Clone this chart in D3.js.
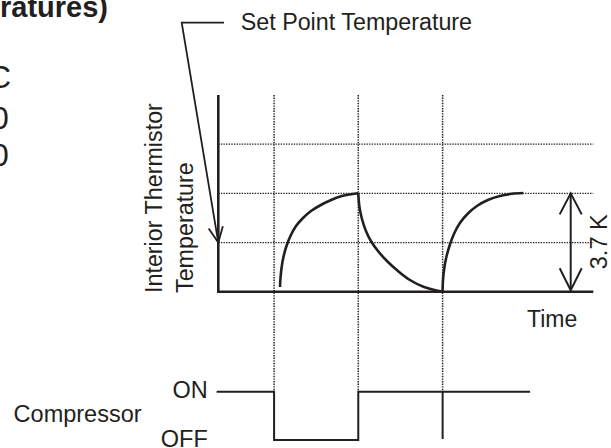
<!DOCTYPE html>
<html>
<head>
<meta charset="utf-8">
<script src="https://cdn.jsdelivr.net/npm/d3@7"></script>
<style>
  html, body { margin: 0; padding: 0; background: #fff; }
  svg { display: block; }
  text { font-family: "Liberation Sans", Arial, sans-serif; fill: #231f20; }
</style>
</head>
<body>
<svg id="chart" width="611" height="448"></svg>
<script>
// ---------------- data ----------------
const titleFragment = "ratures)";
const leftFragments = ["C", "0", "0"];
const setPointLabel = "Set Point Temperature";
const yAxisLabelLines = ["Interior Thermistor", "Temperature"];
const xAxisLabel = "Time";
const differentialLabel = "3.7 K";
const compressorLabel = "Compressor";
const stateLabels = ["ON", "OFF"];

// temperature relative to set point (K); time in arbitrary units
const tempDomain = [-1.85, 5.55];
const timeDomain = [0, 4.45];
const tempGrid = [0, 1.85, 3.7];
const timeGrid = [0.662, 1.661, 2.662];
const setPoint = 0;
const diffRange = [-1.85, 1.85];

// curve points [time, temp]
const rise1 = [[0.732,-1.673],[0.738,-1.335],[0.752,-0.921],[0.773,-0.545],[0.809,-0.131],[0.856,0.245],
  [0.922,0.622],[1.005,0.923],[1.100,1.186],[1.206,1.393],[1.325,1.581],[1.456,1.739],[1.661,1.852]];
const fall1 = [[1.661,1.852],[1.675,1.337],[1.705,0.885],[1.752,0.434],[1.811,0.057],[1.895,-0.319],
  [2.001,-0.695],[2.132,-1.071],[2.274,-1.41],[2.441,-1.673],[2.662,-1.85]];
const rise2 = [[2.662,-1.85],[2.665,-1.485],[2.677,-1.071],[2.701,-0.62],[2.743,-0.131],[2.796,0.321],
  [2.867,0.735],[2.962,1.092],[3.069,1.374],[3.199,1.6],[3.342,1.75],[3.485,1.833],[3.619,1.863]];

// compressor schedule [time, state] (1 = ON, 0 = OFF)
const compressor = [[-0.02,1],[0.662,0],[1.661,1],[3.70,1]];
const compressorTick = 2.662;

// ---------------- drawing ----------------
const svg = d3.select("#chart");
const ink = "#231f20";

const x = d3.scaleLinear().domain(timeDomain).range([218.3, 593.3]);
const y = d3.scaleLinear().domain(tempDomain).range([291.7, 95]);
const yc = d3.scaleLinear().domain([0, 1]).range([440, 391.7]);

// dotted horizontal grid
svg.append("g").selectAll("line").data(tempGrid).join("line")
  .attr("x1", x(timeDomain[0])).attr("x2", x(timeDomain[1]))
  .attr("y1", d => y(d)).attr("y2", d => y(d))
  .attr("stroke", ink).attr("stroke-width", 1.3).attr("stroke-dasharray", "1.4,1.2");

// dotted vertical grid down to compressor ON level
svg.append("g").selectAll("line").data(timeGrid).join("line")
  .attr("x1", d => x(d)).attr("x2", d => x(d))
  .attr("y1", y(tempDomain[1])).attr("y2", yc(1))
  .attr("stroke", ink).attr("stroke-width", 1.5).attr("stroke-dasharray", "1.4,1.2");

// axes
svg.append("line").attr("x1", x(0)).attr("x2", x(0))
  .attr("y1", y(tempDomain[1])).attr("y2", y(tempDomain[0]) + 1.3)
  .attr("stroke", ink).attr("stroke-width", 2.6);
svg.append("line").attr("x1", x(0) - 1.3).attr("x2", x(timeDomain[1]))
  .attr("y1", y(tempDomain[0])).attr("y2", y(tempDomain[0]))
  .attr("stroke", ink).attr("stroke-width", 2.6);

// temperature curves
const line = d3.line().x(d => x(d[0])).y(d => y(d[1])).curve(d3.curveCatmullRom.alpha(0.5));
[rise1, fall1, rise2].forEach(c => {
  svg.append("path").attr("d", line(c)).attr("fill", "none")
    .attr("stroke", ink).attr("stroke-width", 2.6).attr("stroke-linecap", "butt");
});

// differential double arrow
const ax = 570.7;
const aTop = y(diffRange[1]), aBot = y(diffRange[0]) - 1.5;
svg.append("line").attr("x1", ax).attr("x2", ax).attr("y1", aTop).attr("y2", aBot)
  .attr("stroke", ink).attr("stroke-width", 2);
svg.append("path").attr("d", `M${ax-11},${aTop+21}L${ax},${aTop}L${ax+11},${aTop+21}`)
  .attr("fill", "none").attr("stroke", ink).attr("stroke-width", 2);
svg.append("path").attr("d", `M${ax-11},${aBot-22}L${ax},${aBot}L${ax+11},${aBot-22}`)
  .attr("fill", "none").attr("stroke", ink).attr("stroke-width", 2);
svg.append("text").attr("transform", `translate(606.5,${(aTop + aBot) / 2}) rotate(-90)`)
  .attr("text-anchor", "middle").attr("font-size", 23.5).text(differentialLabel);

// set point leader
const tip = [x(0), y(setPoint)];
const knee = [181.7, 22.7];
svg.append("path").attr("d", `M224,${knee[1]}L${knee[0]},${knee[1]}L${tip[0]},${tip[1]}`)
  .attr("fill", "none").attr("stroke", ink).attr("stroke-width", 1.8);
{
  const dx = tip[0] - knee[0], dy = tip[1] - knee[1];
  const len = Math.hypot(dx, dy);
  const ux = -dx / len, uy = -dy / len, L = 17, a = 25 * Math.PI / 180;
  const p1 = [tip[0] + L * (ux * Math.cos(a) - uy * Math.sin(a)), tip[1] + L * (ux * Math.sin(a) + uy * Math.cos(a))];
  const p2 = [tip[0] + L * (ux * Math.cos(a) + uy * Math.sin(a)), tip[1] + L * (-ux * Math.sin(a) + uy * Math.cos(a))];
  svg.append("path").attr("d", `M${p1}L${tip}L${p2}`).attr("fill", "none")
    .attr("stroke", ink).attr("stroke-width", 1.8);
}
svg.append("text").attr("x", 240.7).attr("y", 29.5).attr("font-size", 23.3).text(setPointLabel);

// y label
yAxisLabelLines.forEach((t, i) => {
  svg.append("text").attr("transform", `translate(${i === 0 ? 161.5 : 193},293) rotate(-90)`)
    .attr("font-size", 23.3).text(t);
});

// x label
svg.append("text").attr("x", 527).attr("y", 326.5).attr("font-size", 23).text(xAxisLabel);

// compressor step line
const stepLine = d3.line().x(d => x(d[0])).y(d => yc(d[1])).curve(d3.curveStepAfter);
svg.append("path").attr("d", stepLine(compressor)).attr("fill", "none")
  .attr("stroke", ink).attr("stroke-width", 2);
svg.append("line").attr("x1", x(compressorTick)).attr("x2", x(compressorTick))
  .attr("y1", yc(1)).attr("y2", yc(0) - 1)
  .attr("stroke", ink).attr("stroke-width", 2);

svg.append("text").attr("x", 207.8).attr("y", 398.3).attr("text-anchor", "end")
  .attr("font-size", 23.5).text(stateLabels[0]);
svg.append("text").attr("x", 207.8).attr("y", 446.5).attr("text-anchor", "end")
  .attr("font-size", 23.5).text(stateLabels[1]);
svg.append("text").attr("x", 13.6).attr("y", 421.7).attr("font-size", 23.5).text(compressorLabel);

// clipped fragments at the left / top edge
svg.append("text").attr("x", 108).attr("y", 17).attr("text-anchor", "end")
  .attr("font-size", 29).attr("font-weight", "bold").text(titleFragment);
const fragY = [88, 129, 166];
leftFragments.forEach((t, i) => {
  svg.append("text").attr("x", i === 0 ? -12 : -9).attr("y", fragY[i])
    .attr("font-size", 32).text(t);
});
</script>
</body>
</html>
